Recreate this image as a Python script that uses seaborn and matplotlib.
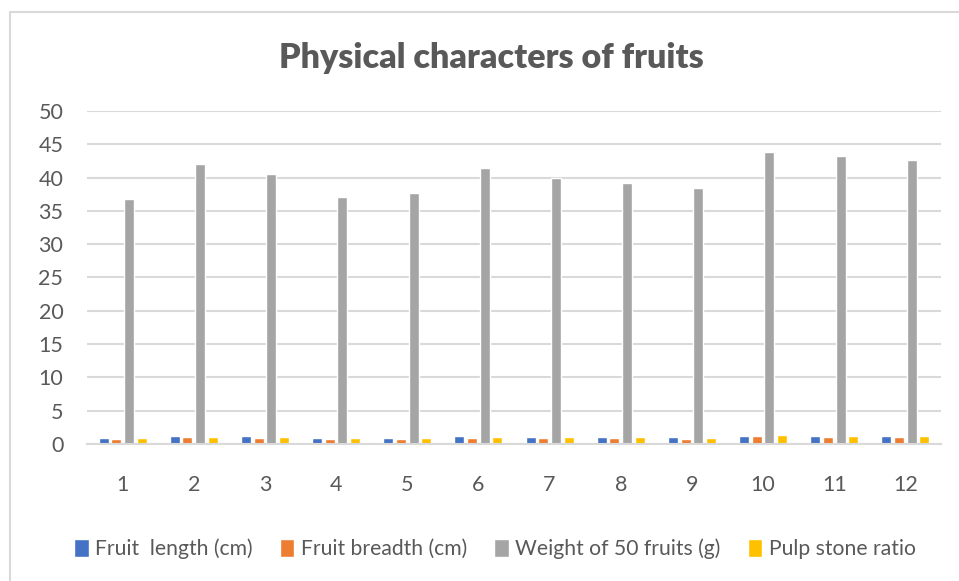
import numpy as np
import pandas as pd
import matplotlib
matplotlib.use('Agg')
import matplotlib.pyplot as plt
from matplotlib.lines import Line2D
import seaborn as sns

# values
samples = [str(i) for i in range(1, 13)]
fruit_length = [0.86, 1.15, 1.15, 0.90, 0.95, 1.15, 1.05, 1.00, 1.00, 1.20, 1.20, 1.20]
fruit_breadth = [0.75, 1.05, 0.86, 0.75, 0.80, 0.95, 0.86, 0.86, 0.80, 1.15, 1.05, 1.00]
weight_50 = [36.8, 42.1, 40.5, 37.1, 37.7, 41.5, 40.0, 39.2, 38.5, 43.9, 43.2, 42.7]
pulp_stone = [0.86, 1.10, 1.05, 0.90, 0.90, 1.10, 1.00, 1.00, 0.95, 1.30, 1.20, 1.20]

series_names = ['Fruit  length (cm)', 'Fruit breadth (cm)',
                'Weight of 50 fruits (g)', 'Pulp stone ratio']
colors = ['#4472C4', '#ED7D31', '#A5A5A5', '#FFC000']

df = pd.DataFrame({
    'sample': samples * 4,
    'value': fruit_length + fruit_breadth + weight_50 + pulp_stone,
    'series': np.repeat(series_names, len(samples)),
})

sns.set_theme(style='white')
plt.rcParams['font.family'] = ['Lato', 'DejaVu Sans']
text_col = '#595959'
grid_col = '#D9D9D9'

fig = plt.figure(figsize=(9.59, 5.81), dpi=100)
ax = fig.add_axes([0.0907, 0.2358, 0.8905, 0.5732])

sns.barplot(data=df, x='sample', y='value', hue='series', palette=colors,
            width=0.713, gap=0.21, ax=ax, legend=True, saturation=1)

ax.set_ylim(0, 50)
ax.set_yticks(range(0, 51, 5))
ax.set_xlim(-0.5, 11.5)
ax.yaxis.grid(True, color=grid_col, linewidth=1.5)
ax.set_axisbelow(True)
for s in ['top', 'right', 'left']:
    ax.spines[s].set_visible(False)
ax.spines['bottom'].set_color(grid_col)
ax.spines['bottom'].set_linewidth(1.5)
ax.tick_params(axis='y', length=0, pad=17, labelsize=15.5, labelcolor=text_col)
ax.tick_params(axis='x', length=0, pad=22, labelsize=15.5, labelcolor=text_col)
ax.set_xlabel('')
ax.set_ylabel('')

handles, labels = ax.get_legend_handles_labels()
ax.get_legend().remove()
fig.legend(handles, labels, loc='center', bbox_to_anchor=(0.516, 1 - 549 / 581),
           ncol=4, frameon=False, fontsize=15.2, labelcolor=text_col,
           handlelength=0.68, handleheight=0.95, handletextpad=0.3, columnspacing=1.3)

fig.text(0.512, 1 - 58 / 581, 'Physical characters of fruits', ha='center', va='center',
         fontsize=24.5, fontweight='heavy', color=text_col)

# chart area border like the excel frame
fig.add_artist(Line2D([10 / 959, 10 / 959], [0, 1 - 12 / 581], color=grid_col, lw=1.5))
fig.add_artist(Line2D([10 / 959, 1], [1 - 12 / 581, 1 - 12 / 581], color=grid_col, lw=1.5))

fig.savefig('out.png', dpi=100)
plt.close(fig)
